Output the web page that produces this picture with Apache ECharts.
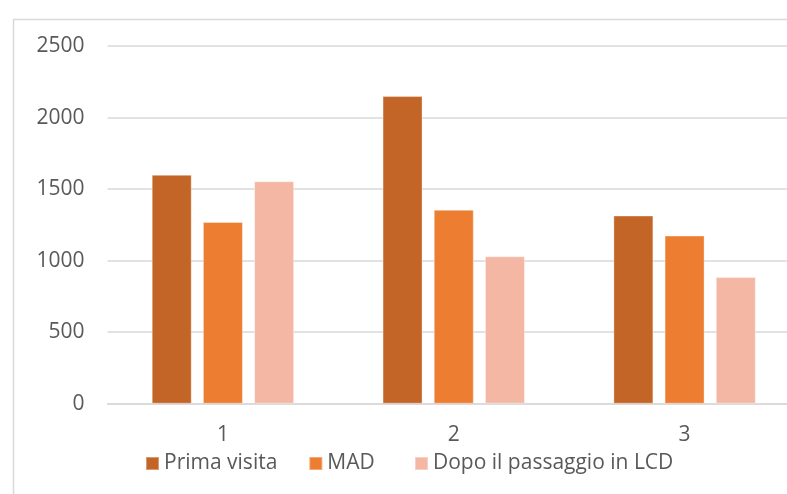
<!DOCTYPE html>
<html>
<head>
<meta charset="utf-8">
<script src="https://cdn.jsdelivr.net/npm/echarts@6/dist/echarts.min.js"></script>
<style>
  html, body { margin: 0; padding: 0; background: #ffffff; }
  #chart { width: 787px; height: 494px; }
</style>
</head>
<body>
<div id="chart"></div>
<script>
// Categories on the x axis
const categories = ['1', '2', '3'];

// Series values
const primaVisita = [1600, 2150, 1315];
const mad = [1270, 1355, 1175];
const dopoLCD = [1555, 1030, 885];

// Y axis tick range
const yMin = 0;
const yMax = 2500;
const yStep = 500;

const seriesNames = ['Prima visita', 'MAD', 'Dopo il passaggio in LCD'];
const seriesColors = ['#C46528', '#ED7D31', '#F4B7A4'];
const seriesData = [primaVisita, mad, dopoLCD];

const FONT = '"Open Sans", "Liberation Sans", sans-serif';
const TEXT = '#595959';
const GRID = '#D9D9D9';

const chart = echarts.init(document.getElementById('chart'), null, { renderer: 'canvas' });

const legendBase = {
  top: 453,
  padding: 0,
  itemWidth: 13,
  itemHeight: 13,
  itemGap: 31,
  icon: 'rect',
  textStyle: { color: TEXT, fontSize: 21, fontFamily: FONT }
};

chart.setOption({
  backgroundColor: '#ffffff',
  animation: false,
  textStyle: { fontFamily: FONT },
  graphic: [{
    type: 'rect',
    left: 11, top: 17,
    shape: { width: 820, height: 520 },
    style: { fill: 'none', stroke: GRID, lineWidth: 1.5 },
    silent: true, z: -1
  }],
  // plot area runs past the right edge of the canvas
  grid: { left: 107.5, top: 46, width: 692.5, height: 357.7, outerBoundsMode: 'none', containLabel: false },
  legend: [
    Object.assign({}, legendBase, { data: seriesNames.slice(0, 2), left: 145 }),
    Object.assign({}, legendBase, { data: seriesNames.slice(2), left: 414 })
  ],
  xAxis: {
    type: 'category',
    data: categories,
    axisTick: { show: false },
    axisLine: { lineStyle: { color: GRID, width: 1.5 } },
    axisLabel: { color: TEXT, fontSize: 21, fontFamily: FONT, margin: 21 }
  },
  yAxis: {
    type: 'value',
    min: yMin, max: yMax, interval: yStep,
    axisLine: { show: false },
    axisTick: { show: false },
    splitLine: { lineStyle: { color: GRID, width: 1.5 } },
    axisLabel: { color: TEXT, fontSize: 21, fontFamily: FONT, margin: 23, formatter: v => String(v) }
  },
  series: seriesNames.map((name, i) => ({
    name: name,
    type: 'bar',
    data: seriesData[i],
    barWidth: 40,
    barGap: '28%',
    itemStyle: { color: seriesColors[i], borderColor: 'rgba(255,255,255,0.35)', borderWidth: 1 }
  }))
});
</script>
</body>
</html>
